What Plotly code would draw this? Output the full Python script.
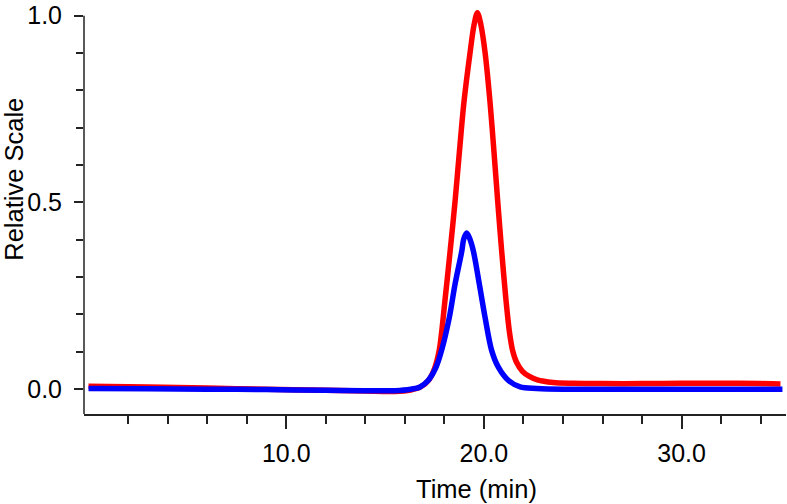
import plotly.graph_objects as go

# ---- data ----
red_time = [0, 3, 6, 9, 12, 14, 15.5, 16.3, 16.8, 17.2, 17.5, 17.74, 18.03, 18.29, 18.54,
            18.76, 18.99, 19.30, 19.5, 19.67, 19.85, 20.06, 20.31, 20.51, 20.70, 20.90,
            21.12, 21.3, 21.45, 21.65, 21.95, 22.3, 22.7, 23.5, 24.5, 26, 28, 30, 32, 34, 35]
red_value = [0.008, 0.006, 0.003, 0.0, -0.003, -0.005, -0.006, -0.002, 0.006, 0.024, 0.055,
             0.104, 0.237, 0.369, 0.502, 0.635, 0.768, 0.901, 0.975, 1.008, 0.975, 0.901,
             0.768, 0.635, 0.502, 0.369, 0.237, 0.150, 0.104, 0.072, 0.048, 0.034, 0.025,
             0.018, 0.016, 0.015, 0.015, 0.016, 0.016, 0.015, 0.014]

blue_time = [0, 3, 6, 9, 12, 14, 15.5, 16.3, 16.77, 17.19, 17.58, 17.86, 18.25, 18.54, 18.88,
             18.98, 19.13, 19.29, 19.47, 19.77, 20.06, 20.39, 20.73, 21.23, 21.83, 22.67,
             24, 27, 30, 33, 35.1]
blue_value = [0.002, 0.001, 0.0, -0.001, -0.003, -0.004, -0.004, 0.0, 0.006, 0.024, 0.059,
              0.104, 0.192, 0.281, 0.369, 0.402, 0.418, 0.402, 0.369, 0.281, 0.192, 0.104,
              0.059, 0.024, 0.006, 0.002, 0.0, 0.0, 0.0, 0.0, 0.0]

x_major = [10, 20, 30]
x_major_text = ["10.0", "20.0", "30.0"]
x_minor = [2, 4, 6, 8, 12, 14, 16, 18, 22, 24, 26, 28, 32, 34]
y_major = [0.0, 0.5, 1.0]
y_major_text = ["0.0", "0.5", "1.0"]
y_minor = [0.1, 0.2, 0.3, 0.4, 0.6, 0.7, 0.8, 0.9]

x_title = "Time (min)"
y_title = "Relative Scale"

FONT = "Liberation Sans, Arial, sans-serif"

W, H = 787, 504
L, R, T, B = 84, 1, 3, 90
pw, ph = W - L - R, H - T - B

def px_x(p):
    return (p - L) / pw

def px_y(p):
    return (H - B - p) / ph

fig = go.Figure()
fig.add_trace(go.Scatter(x=red_time, y=red_value, mode="lines",
                         line=dict(color="rgb(255,0,0)", width=5.5, shape="spline", smoothing=0.9),
                         showlegend=False, hoverinfo="skip"))
fig.add_trace(go.Scatter(x=blue_time, y=blue_value, mode="lines",
                         line=dict(color="rgb(0,0,255)", width=5.5, shape="spline", smoothing=0.9),
                         showlegend=False, hoverinfo="skip"))

y_lo, y_hi = -0.0664, 1.0258

fig.update_layout(
    width=W, height=H,
    margin=dict(l=L, r=R, t=T, b=B, pad=0),
    paper_bgcolor="white", plot_bgcolor="white",
    font=dict(family=FONT, size=25, color="black"),
    xaxis=dict(range=[-0.228, -0.228 + pw / 19.77], showgrid=False, zeroline=False,
               showline=True, linecolor="#222", linewidth=1.5,
               ticks="outside", ticklen=13, tickwidth=1.5, tickcolor="#222",
               tickvals=x_major, ticktext=x_major_text, ticklabelstandoff=3,
               ticklabeloverflow="allow",
               tickfont=dict(size=25, family=FONT),
               minor=dict(tickvals=x_minor, ticks="outside", ticklen=8,
                          tickwidth=1.5, tickcolor="#222", showgrid=False)),
    yaxis=dict(range=[y_lo, y_hi], showgrid=False, zeroline=False, showline=False,
               ticks="outside", ticklen=9, tickwidth=1.5, tickcolor="#222",
               tickvals=y_major, ticktext=y_major_text, ticklabelstandoff=7,
               ticklabeloverflow="allow",
               tickfont=dict(size=25, family=FONT),
               minor=dict(tickvals=y_minor, ticks="outside", ticklen=7,
                          tickwidth=1.5, tickcolor="#222", showgrid=False)),
    shapes=[dict(type="line", xref="paper", yref="y", x0=0, x1=0, y0=y_lo, y1=1.0,
                 line=dict(color="#222", width=1.5), layer="below")],
    annotations=[
        dict(text=x_title, xref="paper", yref="paper", x=px_x(476), y=px_y(490),
             xanchor="center", yanchor="middle", showarrow=False,
             font=dict(size=25.5, family=FONT)),
        dict(text=y_title, xref="paper", yref="paper", x=px_x(14), y=px_y(178),
             xanchor="center", yanchor="middle", showarrow=False, textangle=-90,
             font=dict(size=25.5, family=FONT)),
    ],
)

fig.write_html("out.html", config={"displayModeBar": False},
               post_script="document.body.style.margin='0px';document.body.style.overflow='hidden';")
